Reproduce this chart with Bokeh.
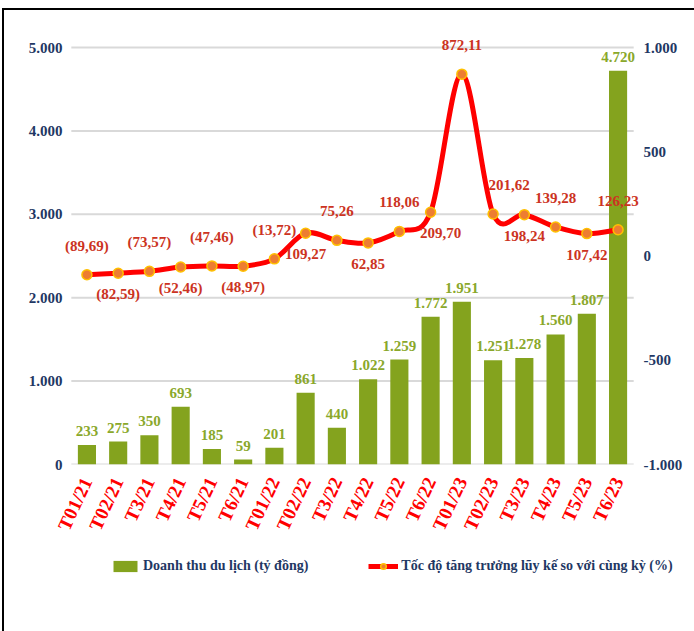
import numpy as np
from bokeh.plotting import figure
from bokeh.layouts import column
from bokeh.models import (ColumnDataSource, Range1d, LinearAxis, FixedTicker,
                          Legend, LegendItem)
from bokeh.core.properties import value
from bokeh.embed import file_html
from bokeh.resources import INLINE

# ---------------- data ----------------
months = ["T01/21", "T02/21", "T3/21", "T4/21", "T5/21", "T6/21",
          "T01/22", "T02/22", "T3/22", "T4/22", "T5/22", "T6/22",
          "T01/23", "T02/23", "T3/23", "T4/23", "T5/23", "T6/23"]
revenue = [233, 275, 350, 693, 185, 59, 201, 861, 440, 1022, 1259, 1772,
           1951, 1251, 1278, 1560, 1807, 4720]
growth = [-89.69, -82.59, -73.57, -52.46, -47.46, -48.97, -13.72, 109.27,
          75.26, 62.85, 118.06, 209.70, 872.11, 201.62, 198.24, 139.28,
          107.42, 126.23]
left_ticks = [0, 1000, 2000, 3000, 4000, 5000]
right_ticks = [-1000, -500, 0, 500, 1000]
bar_name = "Doanh thu du lịch (tỷ đồng)"
line_name = "Tốc độ tăng trưởng lũy kế so với cùng kỳ (%)"

# label placement style (a = above, b = below)
label_side = ["a", "b", "a", "b", "a", "b", "a", "b", "a", "b", "a", "b",
              "a", "a", "b", "a", "b", "a"]
label_dx = {11: 10, 13: 16}

# ---------------- helpers ----------------
def vn_int(v):
    return f"{int(v):,}".replace(",", ".")

def vn_dec(v):
    s = f"{abs(v):.2f}".replace(".", ",")
    return f"({s})" if v < 0 else s

FONT = "Liberation Serif"
NAVY = "#1F3864"
BAR = "#84A31E"
BAR_LBL = "#8AA82B"
LINE = "#FF0000"
LINE_LBL = "#CC3322"
MARK = "#ED7D31"
MARK_EDGE = "#FFC000"

n = len(months)
xs = list(range(n))

# headroom around the category area so edge labels are not clipped
TOP = 5300
pct_top = -1000 + 2000 * TOP / 5000
PAD = 0.25

p = figure(width=690, height=538, output_backend="svg", toolbar_location=None,
           x_range=Range1d(-0.5 - PAD, n - 0.5 + PAD), y_range=Range1d(0, TOP),
           min_border_left=59, min_border_right=53, min_border_top=12,
           min_border_bottom=84)
p.outline_line_color = None
p.background_fill_color = "white"
p.border_fill_color = "white"
p.extra_y_ranges = {"pct": Range1d(-1000, pct_top)}

# axes
p.xaxis.ticker = FixedTicker(ticks=xs)
p.xaxis.major_label_overrides = {i: m for i, m in enumerate(months)}
p.xaxis.major_label_orientation = 1.13
p.xaxis.major_label_text_font = FONT
p.xaxis.major_label_text_font_style = "bold"
p.xaxis.major_label_text_font_size = "19px"
p.xaxis.major_label_text_color = LINE
p.xaxis.major_label_standoff = 14

p.yaxis.ticker = FixedTicker(ticks=left_ticks)
p.yaxis.major_label_overrides = {t: vn_int(t) for t in left_ticks}

right = LinearAxis(y_range_name="pct", ticker=FixedTicker(ticks=right_ticks))
right.major_label_overrides = {t: ("-" + vn_int(-t) if t < 0 else vn_int(t))
                               for t in right_ticks}
p.add_layout(right, "right")

for ax in [p.yaxis[0], right]:
    ax.major_label_text_font = FONT
    ax.major_label_text_font_style = "bold"
    ax.major_label_text_font_size = "15px"
    ax.major_label_text_color = NAVY
for ax in [p.xaxis[0], p.yaxis[0], right]:
    ax.axis_line_color = None
    ax.major_tick_line_color = None
    ax.minor_tick_line_color = None
    ax.major_tick_out = 0
    ax.major_tick_in = 0
    ax.minor_tick_out = 0
p.yaxis[0].major_label_standoff = 1
right.major_label_standoff = 2

# horizontal gridlines only across the category area
p.xgrid.grid_line_color = None
p.ygrid.grid_line_color = None
p.segment(x0=-0.5, x1=n - 0.5, y0="t", y1="t",
          source=ColumnDataSource(dict(t=left_ticks)),
          line_color="#D9D9D9", line_width=2)

# bars
bsrc = ColumnDataSource(dict(x=xs, top=revenue,
                             lbl=[vn_int(v) for v in revenue]))
p.vbar(x="x", top="top", width=0.58, source=bsrc,
       fill_color=BAR, line_color=None)
p.text(x="x", y="top", text="lbl", source=bsrc, text_align="center",
       text_baseline="bottom", y_offset=-9, text_font=value(FONT),
       text_font_style="bold", text_font_size="15px", text_color=BAR_LBL)

# smooth line (Catmull-Rom as cubic Bezier between the data points)
px = np.array(xs, dtype=float)
py = np.array(growth, dtype=float)
pxe = np.concatenate([[px[0]], px, [px[-1]]])
pye = np.concatenate([[py[0]], py, [py[-1]]])
seg = dict(x0=[], y0=[], x1=[], y1=[], cx0=[], cy0=[], cx1=[], cy1=[])
for i in range(n - 1):
    j = i + 1
    seg["x0"].append(px[i]); seg["y0"].append(py[i])
    seg["x1"].append(px[i + 1]); seg["y1"].append(py[i + 1])
    seg["cx0"].append(px[i] + (pxe[j + 1] - pxe[j - 1]) / 6)
    seg["cy0"].append(py[i] + (pye[j + 1] - pye[j - 1]) / 6)
    seg["cx1"].append(px[i + 1] - (pxe[j + 2] - pxe[j]) / 6)
    seg["cy1"].append(py[i + 1] - (pye[j + 2] - pye[j]) / 6)
p.bezier(source=ColumnDataSource(seg), x0="x0", y0="y0", x1="x1", y1="y1",
         cx0="cx0", cy0="cy0", cx1="cx1", cy1="cy1", y_range_name="pct",
         line_color=LINE, line_width=5, line_cap="round")

lsrc = ColumnDataSource(dict(
    x=xs, y=growth, lbl=[vn_dec(v) for v in growth],
    dy=[-29 if s == "a" else 21 for s in label_side],
    dx=[label_dx.get(i, 0) for i in range(n)]))
p.scatter(x="x", y="y", source=lsrc, y_range_name="pct", size=10,
          fill_color=MARK, line_color=MARK_EDGE, line_width=1.5)
p.text(x="x", y="y", text="lbl", source=lsrc, y_range_name="pct",
       x_offset="dx", y_offset="dy", text_align="center",
       text_baseline="middle", text_font=value(FONT), text_font_style="bold",
       text_font_size="15px", text_color=LINE_LBL)

# ---------------- legend strip (separate figure below) ----------------
# the strip's view range lies away from the data, so its renderers only
# serve as legend keys
lg = figure(width=690, height=83, output_backend="svg", toolbar_location=None,
            x_range=Range1d(-3, -2), y_range=Range1d(-3, -2),
            x_axis_type=None, y_axis_type=None,
            min_border_left=0, min_border_right=0, min_border_top=0,
            min_border_bottom=0)
lg.outline_line_color = None
lg.xgrid.grid_line_color = None
lg.ygrid.grid_line_color = None
legend_x = 44
if "frame_align" in lg.properties():
    lg.frame_align = False
    legend_x = 106
ksrc = ColumnDataSource(dict(x=xs, y=growth, top=revenue))
br = lg.vbar(x="x", top="top", width=0.5, source=ksrc,
             fill_color=BAR, line_color=None)
lr = lg.line(x="x", y="y", source=ksrc, line_color=LINE, line_width=5)
sr = lg.scatter(x="x", y="y", source=ksrc, size=10, fill_color=MARK,
                line_color=MARK_EDGE, line_width=1.5)
legend = Legend(items=[LegendItem(label=bar_name, renderers=[br]),
                       LegendItem(label=line_name, renderers=[lr, sr])],
                orientation="horizontal", location=(legend_x, 57),
                glyph_width=30, glyph_height=14, label_standoff=3,
                spacing=60, padding=0, margin=0,
                border_line_color=None, background_fill_alpha=0,
                label_text_font=FONT, label_text_font_style="bold",
                label_text_font_size="14px", label_text_color=NAVY)
lg.add_layout(legend, "center")

layout = column(p, lg, spacing=0, margin=(8, 0, 0, 2),
                styles={"border-top": "2px solid #000",
                        "border-left": "2px solid #000"})
open("out.html", "w").write(file_html(layout, INLINE))
